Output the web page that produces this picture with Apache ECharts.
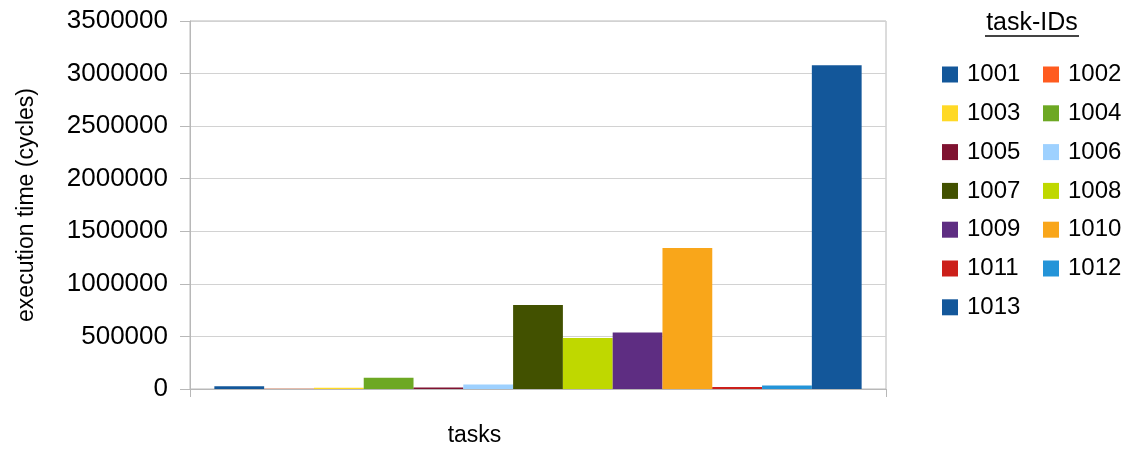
<!DOCTYPE html>
<html>
<head>
<meta charset="utf-8">
<title>Execution time per task</title>
<script src="https://cdn.jsdelivr.net/npm/echarts@6/dist/echarts.min.js"></script>
<style>
  html, body { margin: 0; padding: 0; background: #ffffff; }
  #chart { width: 1139px; height: 452px; }
</style>
</head>
<body>
<div id="chart"></div>
<script>
// Task identifiers, one bar each
const taskIds = ['1001', '1002', '1003', '1004', '1005', '1006', '1007',
                 '1008', '1009', '1010', '1011', '1012', '1013'];

// Execution time of each task, in cycles
const execCycles = [25000, 2000, 12000, 108000, 15000, 42000, 800000,
                    485000, 538000, 1340000, 20000, 33000, 3080000];

// Bar colour of each task
const taskColors = ['#13579a', '#ff5b1f', '#ffd926', '#6da823', '#7f1230', '#9ed1ff', '#425100',
                    '#bfd800', '#5e2d82', '#f9a61a', '#cc1f1a', '#2494d8', '#13579a'];

// The single category on the x axis
const categories = ['tasks'];

// Value axis ticks
const yMin = 0;
const yMax = 3500000;
const yStep = 500000;

const FONT = '"Liberation Sans", Arial, sans-serif';
const GRID_GRAY = '#d2d2d2';
const AXIS_GRAY = '#b8b8b8';

const chart = echarts.init(document.getElementById('chart'), null, { renderer: 'canvas' });

function legendFor(ids, left) {
  return {
    orient: 'vertical',
    left: left,
    top: 62.5,
    padding: 0,
    icon: 'rect',
    itemWidth: 16,
    itemHeight: 16,
    itemGap: 14.8,
    selectedMode: false,
    data: ids,
    textStyle: {
      fontFamily: FONT,
      fontSize: 24,
      lineHeight: 24,
      color: '#000',
      padding: [0, 0, 0, 4]
    }
  };
}

const option = {
  animation: false,
  backgroundColor: '#ffffff',
  title: {
    text: 'task-IDs',
    left: 1032,
    top: 11,
    padding: 0,
    textAlign: 'center',
    textStyle: { fontFamily: FONT, fontSize: 25, fontWeight: 'normal', color: '#000' }
  },
  graphic: [{
    type: 'line',
    shape: { x1: 985, y1: 36, x2: 1079, y2: 36 },
    style: { stroke: '#444', lineWidth: 2 },
    silent: true
  }],
  legend: [
    legendFor(taskIds.filter((_, i) => i % 2 === 0), 942),
    legendFor(taskIds.filter((_, i) => i % 2 === 1), 1043)
  ],
  grid: {
    left: 190,
    right: 253,
    top: 21,
    bottom: 61,
    show: true,
    borderColor: AXIS_GRAY,
    borderWidth: 1
  },
  xAxis: {
    type: 'category',
    data: categories,
    name: 'tasks',
    nameLocation: 'middle',
    nameGap: 35,
    nameTextStyle: {
      fontFamily: FONT, fontSize: 23, color: '#000',
      padding: [0, 127, 0, 0]
    },
    axisLine: { lineStyle: { color: AXIS_GRAY } },
    axisTick: { show: true, length: 8, lineStyle: { color: AXIS_GRAY } },
    axisLabel: { show: false },
    splitLine: { show: false }
  },
  yAxis: {
    type: 'value',
    min: yMin,
    max: yMax,
    interval: yStep,
    name: 'execution time (cycles)',
    nameLocation: 'middle',
    nameGap: 152,
    nameRotate: 90,
    nameTextStyle: { fontFamily: FONT, fontSize: 23, color: '#000' },
    axisLine: { show: true, lineStyle: { color: AXIS_GRAY } },
    axisTick: { show: true, length: 10, lineStyle: { color: AXIS_GRAY } },
    axisLabel: {
      fontFamily: FONT, fontSize: 26, color: '#000', margin: 22,
      formatter: (v) => String(v)
    },
    splitLine: { lineStyle: { color: GRID_GRAY } }
  },
  series: taskIds.map((id, i) => ({
    name: id,
    type: 'bar',
    data: [execCycles[i]],
    barGap: '0%',
    barCategoryGap: '7%',
    itemStyle: { color: taskColors[i] }
  }))
};

chart.setOption(option);
</script>
</body>
</html>
